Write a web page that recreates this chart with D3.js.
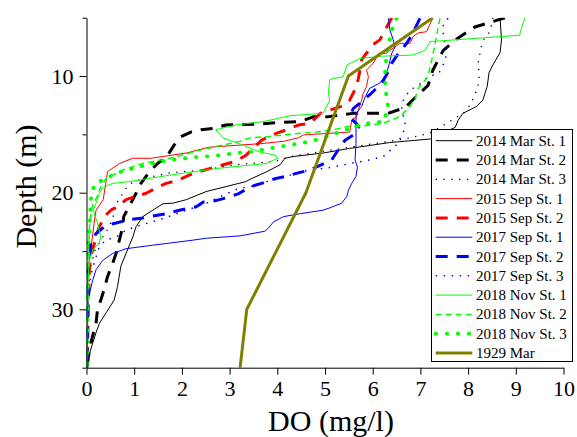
<!DOCTYPE html>
<html><head><meta charset="utf-8">
<script src="https://cdn.jsdelivr.net/npm/d3@7"></script>
<style>body{margin:0;background:#fff}svg{display:block}</style>
</head><body><svg id="c" width="577" height="437"></svg>
<script>
// [depth (m), DO (mg/l)]
const mar2014St1 = [[5.0,8.67],[6.9,8.70],[8.0,8.67],[9.05,8.52],[9.7,8.44],[10.9,8.40],[12.05,8.31],[12.6,8.18],[13.2,7.89],[13.8,7.79],[14.4,7.73],[15.4,7.20],[15.7,6.36],[16.2,5.52],[16.6,4.96],[16.9,4.33],[17.05,4.16],[17.6,4.06],[18.2,3.78],[18.85,3.43],[19.05,3.34],[19.9,2.51],[20.6,2.09],[20.9,1.81],[20.95,1.60],[21.5,1.39],[22.05,1.18],[22.9,1.04],[23.8,0.97],[25.2,0.83],[26.3,0.72],[28.05,0.65],[29.2,0.58],[30.3,0.41],[31.2,0.27],[32.0,0.20],[32.9,0.13],[33.8,0.06],[35,0.03]];
const mar2014St2 = [[5.0,8.77],[5.4,8.46],[5.8,8.14],[6.8,7.77],[7.8,7.48],[9.5,7.26],[10.8,7.16],[11.6,6.95],[12.7,6.68],[13.2,6.32],[13.2,5.59],[13.5,5.04],[13.5,4.75],[13.9,4.48],[14.0,3.99],[14.1,3.70],[14.2,2.92],[14.5,2.65],[14.6,2.40],[14.8,2.19],[15.2,1.98],[15.9,1.84],[16.8,1.70],[17.5,1.49],[18.2,1.32],[19.2,1.14],[20.05,1.04],[20.9,0.93],[22.05,0.78],[22.9,0.76],[25.2,0.62],[26.05,0.55],[27.2,0.44],[28.3,0.37],[29.2,0.30],[30.05,0.23],[31.2,0.20],[31.8,0.16],[32.9,0.09],[34.3,0.03],[35,0.01]];
const mar2014St3 = [[5.0,8.52],[6.2,8.46],[6.7,8.35],[7.2,8.29],[8.05,8.25],[8.9,8.21],[9.8,8.23],[10.5,8.23],[11.2,8.18],[11.9,8.11],[12.5,8.04],[13.2,7.90],[13.6,7.73],[14.3,7.45],[14.9,7.20],[15.3,6.78],[15.6,6.36],[16.1,5.52],[16.5,4.89],[16.9,4.27],[17.3,3.97],[17.6,3.13],[18.05,2.44],[18.3,1.74],[18.8,1.18],[19.2,0.93],[19.8,0.79],[20.6,0.69],[20.9,0.62],[21.8,0.58],[22.9,0.48],[23.8,0.34],[24.9,0.18],[26.6,0.07],[29.2,0.03],[35,0.01]];
const sep2015St1 = [[5.0,7.26],[6.2,7.13],[6.3,6.96],[6.6,6.85],[7.2,6.78],[7.2,6.57],[7.8,6.36],[8.05,6.29],[8.05,6.12],[8.5,6.07],[8.9,6.01],[9.5,5.87],[10.05,5.91],[10.9,5.87],[11.5,5.80],[12.05,5.77],[12.9,5.70],[13.5,5.66],[13.8,5.56],[14.8,5.52],[15.05,4.55],[15.3,4.44],[15.6,4.13],[15.8,3.64],[16.1,2.57],[16.6,2.09],[17.05,1.35],[17.05,0.97],[17.5,0.69],[18.2,0.44],[19.05,0.41],[20.6,0.35],[21.5,0.20],[22.6,0.16],[24.9,0.09],[26.6,0.03],[35,0.01]];
const sep2015St2 = [[5.0,6.40],[6.9,6.15],[7.3,6.01],[8.2,5.84],[8.6,5.77],[10.2,5.70],[10.9,5.66],[12.05,5.52],[12.5,5.42],[13.05,5.00],[13.2,4.90],[14.05,4.69],[14.2,4.44],[14.6,4.20],[14.9,3.99],[15.5,3.67],[16.8,3.34],[17.3,3.13],[18.2,2.36],[18.5,2.15],[18.95,1.91],[19.2,1.67],[19.6,1.46],[20.05,1.25],[20.3,1.04],[20.6,0.83],[21.2,0.65],[21.5,0.51],[21.9,0.41],[22.9,0.27],[23.8,0.20],[25.5,0.09],[26.6,0.06],[35,0.01]];
const sep2017St1 = [[5.05,6.33],[6.05,6.36],[6.9,6.43],[7.5,6.47],[8.05,6.40],[8.9,6.35],[9.5,6.31],[10.05,6.26],[10.6,6.15],[11.05,5.94],[11.8,5.84],[12.6,5.77],[13.2,5.65],[15.8,5.65],[17.2,5.63],[17.8,5.68],[18.6,5.65],[19.2,5.56],[19.8,5.49],[20.3,5.46],[20.9,5.35],[21.3,5.10],[21.5,4.96],[21.8,4.48],[22.05,4.13],[22.5,3.92],[23.05,3.81],[23.3,3.74],[23.7,3.22],[23.9,2.52],[24.1,2.17],[24.5,1.39],[24.8,0.83],[25.2,0.55],[25.8,0.34],[26.6,0.20],[27.5,0.13],[29.2,0.03],[35,0.01]];
const sep2017St2 = [[5.05,6.99],[6.5,6.82],[7.2,6.71],[8.3,6.50],[8.9,6.40],[9.9,6.29],[10.6,6.19],[11.6,5.94],[12.2,5.77],[12.8,5.59],[13.5,5.52],[14.3,5.71],[14.9,5.65],[15.5,5.42],[16.3,5.28],[17.2,5.14],[17.6,4.93],[18.05,4.69],[18.3,4.44],[18.6,4.16],[18.8,3.95],[19.2,3.67],[19.5,3.43],[20.1,3.18],[20.4,2.97],[20.7,2.69],[20.8,2.45],[21.2,2.30],[21.5,1.95],[21.8,1.67],[22.0,1.39],[22.2,1.14],[22.3,0.90],[22.6,0.62],[22.8,0.41],[23.5,0.20],[24.3,0.09],[25.8,0.06],[26.6,0.03],[35,0.01]];
const sep2017St3 = [[5.05,7.58],[5.6,7.48],[6.5,7.48],[7.2,7.52],[8.05,7.55],[8.6,7.52],[9.3,7.45],[9.8,7.38],[10.05,7.17],[10.8,6.96],[11.2,6.78],[11.8,6.68],[12.3,6.61],[12.9,6.61],[14.05,6.68],[14.9,6.64],[15.9,6.50],[16.9,6.22],[17.2,5.94],[17.5,5.52],[17.8,5.17],[18.0,4.83],[18.2,4.48],[18.7,4.13],[19.05,3.78],[19.5,3.43],[19.6,3.22],[20.2,2.87],[20.9,2.52],[21.2,2.31],[21.7,1.96],[22.3,1.54],[22.8,1.12],[23.2,0.83],[23.8,0.62],[24.05,0.41],[24.6,0.27],[25.5,0.20],[27.05,0.09],[29.2,0.03],[35,0.01]];
const nov2018St1 = [[5.0,9.19],[6.3,9.09],[6.5,9.09],[7.05,7.20],[7.8,7.10],[8.2,6.85],[8.3,6.19],[8.5,5.73],[9.05,5.46],[10.05,5.38],[10.3,5.10],[11.5,5.07],[12.05,5.10],[13.2,4.96],[13.4,4.27],[13.9,3.71],[14.2,3.13],[14.6,2.71],[15.3,2.86],[15.9,3.27],[16.5,3.62],[16.8,3.97],[17.05,4.01],[17.5,3.76],[17.9,2.78],[18.5,1.74],[19.05,0.90],[19.2,0.55],[19.5,0.37],[20.05,0.27],[20.9,0.20],[21.5,0.14],[22.6,0.23],[23.8,0.30],[24.3,0.27],[24.9,0.13],[25.8,0.06],[27.5,0.03],[35,0.01]];
const nov2018St2 = [[5.05,7.41],[6.05,7.36],[7.2,7.31],[8.6,7.24],[9.8,7.17],[10.2,7.13],[11.0,6.96],[11.9,6.89],[12.6,6.78],[13.2,6.64],[13.6,6.50],[14.05,6.22],[14.2,5.94],[14.3,5.73],[14.3,5.52],[14.6,5.17],[14.8,4.83],[14.9,4.48],[15.05,4.13],[15.2,3.78],[15.3,3.43],[15.6,3.21],[16.3,2.44],[17.05,1.74],[17.5,1.18],[18.05,0.76],[18.5,0.55],[18.8,0.41],[19.5,0.30],[20.3,0.23],[21.05,0.13],[22.3,0.07],[25.8,0.03],[35,0.01]];
const nov2018St3 = [[5.05,6.50],[6.05,6.40],[7.2,6.34],[8.2,6.29],[9.6,6.26],[10.8,6.26],[11.8,6.29],[12.8,6.33],[13.3,6.28],[13.9,6.22],[14.1,5.80],[14.8,5.31],[15.6,4.72],[16.05,4.06],[16.3,3.71],[16.5,3.46],[16.6,3.13],[16.8,2.78],[17.0,2.16],[17.3,1.60],[17.8,1.07],[18.3,0.65],[18.9,0.34],[19.3,0.16],[20.6,0.09],[22.3,0.07],[24.6,0.04],[35,0.01]];
const mar1929 = [[5,7.26],[10,5.49],[20,4.6],[30,3.36],[35,3.22]];

const seriesNames = ["2014 Mar St. 1","2014 Mar St. 2","2014 Mar St. 3","2015 Sep St. 1","2015 Sep St. 2","2017 Sep St. 1","2017 Sep St. 2","2017 Sep St. 3","2018 Nov St. 1","2018 Nov St. 2","2018 Nov St. 3","1929 Mar"];
const seriesData = [mar2014St1,mar2014St2,mar2014St3,sep2015St1,sep2015St2,sep2017St1,sep2017St2,sep2017St3,nov2018St1,nov2018St2,nov2018St3,mar1929];
const xTicks = [0,1,2,3,4,5,6,7,8,9,10];
const yMajorTicks = [10,20,30];
const yMinorTicks = [5,15,25,35];

const styles = [
  {color:'#000', width:1, dash:null, cap:'butt'},
  {color:'#000', width:3, dash:'12,9', cap:'butt'},
  {color:'#000', width:1.3, dash:'1.3,6.5', cap:'butt'},
  {color:'#f00', width:1, dash:null, cap:'butt'},
  {color:'#f00', width:3, dash:'12,9', cap:'butt'},
  {color:'#00f', width:1, dash:null, cap:'butt'},
  {color:'#00f', width:3, dash:'12,9', cap:'butt'},
  {color:'#00f', width:1.5, dash:'1.5,6.5', cap:'butt'},
  {color:'#0f0', width:1, dash:null, cap:'butt'},
  {color:'#0f0', width:1.5, dash:'6,4', cap:'butt'},
  {color:'#0f0', width:3.8, dash:'0.5,10.5', cap:'round'},
  {color:'#808000', width:3, dash:null, cap:'butt'}
];

const font = '"Liberation Serif","Times New Roman",serif';
const svg = d3.select('#c');
const x = d3.scaleLinear().domain([0,10]).range([86.5,563.5]);
const y = d3.scaleLinear().domain([5,35]).range([17.7,367.7]);

svg.append('defs').append('clipPath').attr('id','clip')
  .append('rect').attr('x',x(0)).attr('y',y(5)).attr('width',x(10)-x(0)).attr('height',y(35)-y(5));

const line = d3.line().x(d=>x(d[1])).y(d=>y(d[0]));
const g = svg.append('g').attr('clip-path','url(#clip)');
seriesData.forEach((data,i)=>{
  const s = styles[i];
  g.append('path').datum(data).attr('d',line)
    .attr('fill','none').attr('stroke',s.color).attr('stroke-width',s.width)
    .attr('stroke-dasharray',s.dash).attr('stroke-linecap',s.cap).attr('stroke-linejoin','round');
});

// axes
const xAxis = d3.axisBottom(x).tickValues(xTicks).tickSize(7).tickSizeOuter(0).tickPadding(6).tickFormat(d3.format('d'));
const gx = svg.append('g').attr('transform',`translate(0,${y(35)})`).call(xAxis);
gx.selectAll('text').style('font-family',font).style('font-size','22px').attr('fill','#000');
gx.select('.domain').attr('stroke','#000');

const yAxis = d3.axisLeft(y).tickValues(yMajorTicks).tickSize(7).tickSizeOuter(0).tickPadding(6).tickFormat(d3.format('d'));
const gy = svg.append('g').attr('transform',`translate(${x(0)},0)`).call(yAxis);
gy.selectAll('text').style('font-family',font).style('font-size','22px').attr('fill','#000');
const yMinor = d3.axisLeft(y).tickValues(yMinorTicks).tickSize(4).tickSizeOuter(0).tickFormat('');
svg.append('g').attr('transform',`translate(${x(0)},0)`).call(yMinor).select('.domain').remove();

svg.append('text').attr('x',331).attr('y',431).attr('text-anchor','middle')
  .style('font-family',font).style('font-size','30px').text('DO (mg/l)');
svg.append('text').attr('transform','translate(36,186.5) rotate(-90)').attr('text-anchor','middle')
  .style('font-family',font).style('font-size','30px').text('Depth (m)');

// legend
const lg = svg.append('g');
lg.append('rect').attr('x',431.5).attr('y',129.5).attr('width',141).attr('height',232)
  .attr('fill','#fff').attr('stroke','#000').attr('stroke-width',1);
seriesNames.forEach((name,i)=>{
  const s = styles[i];
  const ly = 140.7 + i*19.3;
  lg.append('line').attr('x1',435.7).attr('x2',472.3).attr('y1',ly).attr('y2',ly)
    .attr('stroke',s.color).attr('stroke-width',s.width).attr('stroke-dasharray',s.dash).attr('stroke-linecap',s.cap);
  lg.append('text').attr('x',476).attr('y',ly+5).style('font-family',font).style('font-size','15px').text(name);
});
</script></body></html>
